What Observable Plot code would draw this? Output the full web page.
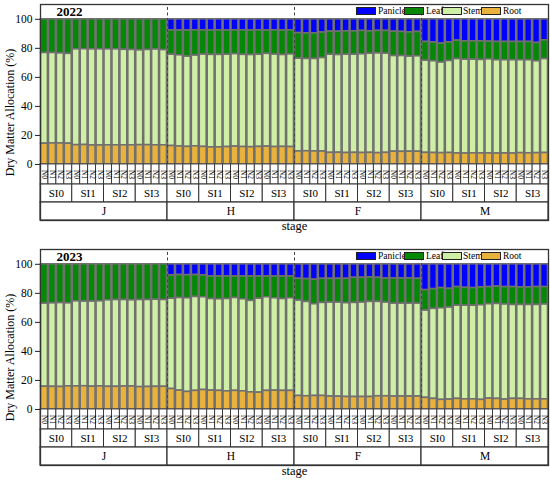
<!DOCTYPE html>
<html><head><meta charset="utf-8">
<script src="https://cdn.jsdelivr.net/npm/d3@7"></script>
<script src="https://cdn.jsdelivr.net/npm/@observablehq/plot@0.6"></script>
<style>
body{margin:0;background:#fff;font-family:"Liberation Serif","Times New Roman","DejaVu Serif",serif}
.panel{position:relative;width:550px;height:240px;overflow:hidden}
.panel svg{display:block}
.panel svg, .panel svg text{font-family:"Liberation Serif","Times New Roman","DejaVu Serif",serif !important}
.lg{position:absolute;font-size:9.5px;line-height:9px;color:#000;white-space:nowrap}
.lgbox{position:absolute;width:20px;height:8px;border:0.8px solid #222;box-sizing:border-box}
</style>
</head><body><div id="chart"></div>
<script>
const stages = ["J","H","F","M"];
const siLevels = ["SI0","SI1","SI2","SI3"];
const nLevels = ["N0","N1","N2","N3"];
const organs = ["Panicle","Leaf","Stem","Root"];
const organColors = ["#0000ff","#058805","#d0efa6","#e9b23d"];
const years = ["2022","2023"];
const yTicks = [0,20,40,60,80,100];

// 2022 (J | H | F | M; each SI0..SI3 x N0..N3)
const root2022 = [
 14.3,14.5,14.5,14.3, 13.3,13.4,13.1,13.1, 13.2,13.2,13.2,13.2, 13.3,13.3,13.2,13.2,
 12.7,12.4,12.1,12.5, 12.1,11.8,11.8,12.0, 12.3,12.0,11.9,12.1, 12.3,12.0,12.1,12.0,
 9.0,9.1,9.0,8.9, 8.0,8.1,7.9,8.0, 7.9,8.0,7.8,8.0, 8.8,8.7,8.8,8.8,
 8.0,7.9,7.8,7.9, 7.6,7.5,7.7,7.6, 7.6,7.5,7.6,7.5, 7.8,7.7,7.8,7.9];
const stem2022 = [
 62.5,62.3,62.0,61.9, 66.0,66.0,66.2,66.2, 66.1,66.1,65.8,65.7, 65.3,65.6,66.0,65.6,
 62.9,62.8,62.2,62.5, 63.6,63.7,63.7,63.6, 63.7,63.5,63.5,63.5, 63.9,63.7,63.3,63.8,
 63.9,63.6,63.7,64.4, 67.6,67.3,67.7,67.6, 68.0,68.3,68.7,68.3, 65.9,66.0,65.5,65.7,
 63.5,63.2,62.4,63.4, 65.0,64.7,64.5,64.4, 64.8,64.3,64.2,64.3, 64.0,64.1,63.3,64.7];
const leaf2022 = [
 23.2,23.2,23.5,23.8, 20.7,20.6,20.7,20.7, 20.7,20.7,21.0,21.1, 21.4,21.1,20.8,21.2,
 16.8,17.0,18.0,17.4, 16.7,16.8,16.9,16.7, 16.4,16.9,16.9,16.8, 16.1,16.7,16.9,16.6,
 17.6,17.6,17.6,17.6, 15.9,16.1,16.1,16.1, 16.1,15.4,15.5,15.7, 16.8,16.6,16.7,16.8,
 12.9,12.9,13.1,12.8, 12.7,12.6,12.6,12.8, 12.2,12.6,12.6,12.6, 12.6,12.6,12.6,12.9];
const panicle2022 = [
 0,0,0,0, 0,0,0,0, 0,0,0,0, 0,0,0,0,
 7.6,7.8,7.7,7.6, 7.6,7.7,7.6,7.7, 7.6,7.6,7.7,7.6, 7.7,7.6,7.7,7.6,
 9.5,9.7,9.7,9.1, 8.5,8.5,8.3,8.3, 8.0,8.3,8.0,8.0, 8.5,8.7,9.0,8.7,
 15.6,16.0,16.7,15.9, 14.7,15.2,15.2,15.2, 15.4,15.6,15.6,15.6, 15.6,15.6,16.3,14.5];

// 2023
const root2023 = [
 15.7,15.6,15.5,15.9, 15.9,16.0,15.7,15.9, 15.6,15.6,15.8,15.8, 15.4,15.5,15.6,15.6,
 14.1,13.0,12.1,12.8, 13.4,13.0,12.8,12.5, 12.8,12.5,11.8,11.6, 12.8,13.0,12.8,12.8,
 9.3,9.1,9.3,9.3, 8.9,8.8,8.6,8.6, 8.6,8.6,9.1,9.1, 8.9,8.9,8.9,8.9,
 8.0,7.3,6.6,6.8, 7.3,7.0,7.0,6.6, 7.5,7.3,6.8,7.3, 7.3,7.0,7.0,7.0];
const stem2023 = [
 57.2,57.5,57.8,57.2, 58.6,58.3,58.6,58.6, 59.6,59.8,59.6,59.4, 60.0,59.9,60.0,59.8,
 62.2,63.8,64.5,64.7, 63.9,63.1,63.1,63.6, 64.0,63.4,63.0,64.7, 64.5,63.6,63.3,63.8,
 65.7,65.0,63.2,64.1, 64.7,64.8,64.6,64.8, 65.0,65.5,65.0,64.5, 64.0,64.0,64.0,64.0,
 60.1,62.0,63.1,63.4, 64.2,64.5,64.5,65.2, 65.0,65.4,65.5,64.7, 64.7,65.0,65.0,65.3];
const leaf2023 = [
 27.1,26.9,26.7,26.9, 25.5,25.7,25.7,25.5, 24.8,24.6,24.6,24.8, 24.6,24.6,24.4,24.6,
 16.0,15.8,15.9,15.1, 15.0,15.5,15.7,15.5, 14.8,15.7,16.8,15.3, 14.3,15.0,15.5,15.0,
 15.0,15.7,16.9,16.6, 16.4,16.4,16.8,17.3, 17.1,16.9,16.6,16.6, 17.3,17.3,17.3,17.1,
 14.1,13.6,13.9,12.9, 12.8,12.3,12.1,12.3, 11.8,11.9,12.0,12.3, 12.1,12.1,12.3,12.0];
const panicle2023 = [
 0,0,0,0, 0,0,0,0, 0,0,0,0, 0,0,0,0,
 7.7,7.4,7.5,7.4, 7.7,8.4,8.4,8.4, 8.4,8.4,8.4,8.4, 8.4,8.4,8.4,8.4,
 10.0,10.2,10.6,10.0, 10.0,10.0,10.0,9.3, 9.3,9.0,9.3,9.8, 9.8,9.8,9.8,10.0,
 17.8,17.1,16.4,16.9, 15.7,16.2,16.4,15.9, 15.7,15.4,15.7,15.7, 15.9,15.9,15.7,15.7];

const seriesByYear = {
  "2022": {Panicle: panicle2022, Leaf: leaf2022, Stem: stem2022, Root: root2022},
  "2023": {Panicle: panicle2023, Leaf: leaf2023, Stem: stem2023, Root: root2023}
};

// layout (y units of the value scale)
const yTop = 110.2, yBottom = -38.6;
const nRowBottom = -13.8, siRowBottom = -26.2;
const serif = "Liberation Serif, Times New Roman, DejaVu Serif, serif";

function panel(year, mt, mb) {
  const s = seriesByYear[year];
  const nBars = stages.length * siLevels.length * nLevels.length;
  const rows = [];
  for (let i = 0; i < nBars; i++) organs.forEach(o => rows.push({x1: i, x2: i + 1, organ: o, value: s[o][i]}));
  const nCells = d3.range(nBars).map(i => ({x1: i, x2: i + 1, label: nLevels[i % nLevels.length]}));
  const siCells = d3.range(stages.length * siLevels.length).map(j => ({x1: j * 4, x2: j * 4 + 4, label: siLevels[j % siLevels.length]}));
  const stageCells = stages.map((st, k) => ({x1: k * 16, x2: k * 16 + 16, label: st}));
  const plot = Plot.plot({
    width: 550, height: 240, marginLeft: 40, marginRight: 2, marginTop: mt, marginBottom: mb,
    x: {domain: [0, nBars], axis: null},
    y: {domain: [yBottom, yTop], axis: null},
    color: {domain: organs, range: organColors},
    style: {fontFamily: serif, background: "#fff", color: "#000"},
    marks: [
      Plot.rect(rows, Plot.stackY({x1: "x1", x2: "x2", y: "value", fill: "organ",
        order: ["Root", "Stem", "Leaf", "Panicle"], stroke: "#707070", strokeWidth: 1.6,
        insetLeft: 0.5, insetRight: 0.5})),
      Plot.ruleX(stageCells.slice(1), {x: "x1", y1: 0, y2: yTop, stroke: "#444", strokeWidth: 1, strokeDasharray: "3,2.5"}),
      Plot.rect(nCells, {x1: "x1", x2: "x2", y1: nRowBottom, y2: 0, fill: "#fff", stroke: "#333", strokeWidth: 0.9}),
      Plot.rect(siCells, {x1: "x1", x2: "x2", y1: siRowBottom, y2: nRowBottom, fill: "#fff", stroke: "#333", strokeWidth: 1}),
      Plot.rect(stageCells, {x1: "x1", x2: "x2", y1: yBottom, y2: siRowBottom, fill: "#fff", stroke: "#333", strokeWidth: 1.2}),
      Plot.text(nCells, {x: d => (d.x1 + d.x2) / 2, y: nRowBottom / 2, text: "label", rotate: 90, fontSize: 7.5}),
      Plot.text(siCells, {x: d => (d.x1 + d.x2) / 2, y: (nRowBottom + siRowBottom) / 2, text: "label", fontSize: 11}),
      Plot.text(stageCells, {x: d => (d.x1 + d.x2) / 2, y: (siRowBottom + yBottom) / 2, text: "label", fontSize: 11.5}),
      Plot.axisY(yTicks, {tickSize: 5, tickPadding: 3, fontSize: 11.5, label: null, stroke: "#222"}),
      Plot.text(["Dry Matter Allocation (%)"], {frameAnchor: "left", textAnchor: "middle", lineAnchor: "middle", rotate: -90, dx: -30, fontSize: 12}),
      Plot.text([year], {frameAnchor: "top-left", dx: 16, dy: 2, lineAnchor: "top", textAnchor: "start", fontWeight: "bold", fontSize: 13}),
      Plot.text(["stage"], {frameAnchor: "bottom", textAnchor: "middle", lineAnchor: "top", dy: 1, fontSize: 12.5}),
      Plot.frame({stroke: "#333", strokeWidth: 1.3})
    ]
  });
  const div = document.createElement("div");
  div.className = "panel";
  div.appendChild(plot);
  // legend (top-right inside the frame)
  const boxLeft = [356, 404, 442, 481];
  const labLeft = [378, 426, 463, 503];
  organs.forEach((o, k) => {
    const lab = document.createElement("div");
    lab.className = "lg"; lab.textContent = o;
    lab.style.left = labLeft[k] + "px"; lab.style.top = (mt + 3) + "px";
    div.appendChild(lab);
  });
  organs.forEach((o, k) => {
    const b = document.createElement("div");
    b.className = "lgbox"; b.style.background = organColors[k];
    b.style.left = boxLeft[k] + "px"; b.style.top = (mt + 3) + "px";
    div.appendChild(b);
  });
  return div;
}

const chart = document.getElementById("chart");
chart.appendChild(panel(years[0], 4, 20));
chart.appendChild(panel(years[1], 9, 15));
</script>
</body></html>
